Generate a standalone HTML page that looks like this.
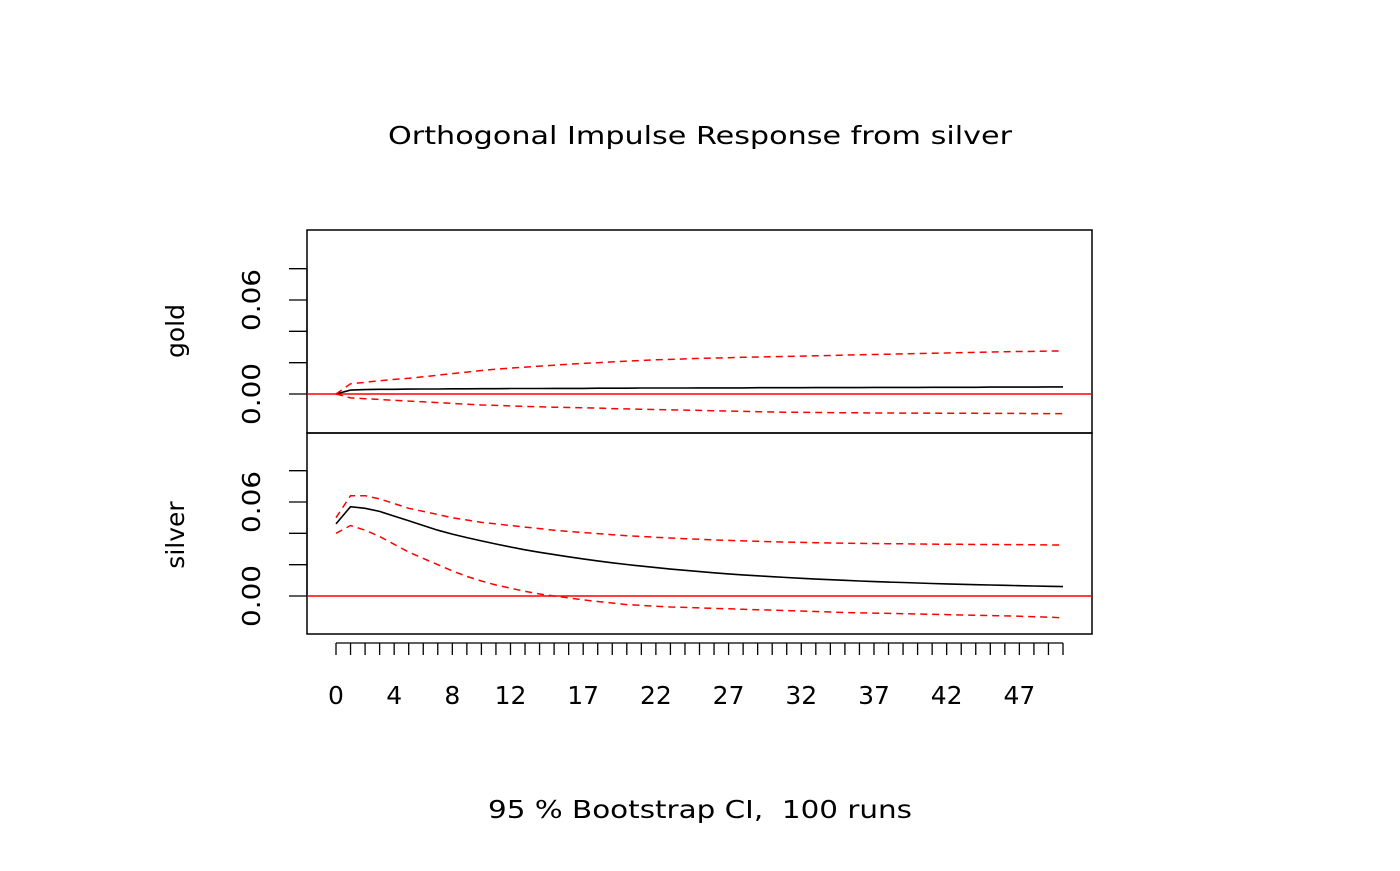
<!DOCTYPE html>
<html><head><meta charset="utf-8"><style>
body{margin:0;background:#fff}
svg text{font-family:"DejaVu Sans","Liberation Sans",sans-serif;fill:#000;white-space:pre}
</style></head><body>
<svg id="c" width="1400" height="866" viewBox="0 0 1400 866">
<text x="700" y="144" font-size="25" text-anchor="middle" textLength="624" lengthAdjust="spacingAndGlyphs">Orthogonal Impulse Response from silver</text>
<text x="700" y="818" font-size="25" text-anchor="middle" textLength="424" lengthAdjust="spacingAndGlyphs">95 % Bootstrap CI,  100 runs</text>
<g id="g"></g>
</svg>
<script>
const steps = Array.from({length:51},(_,i)=>i);
const xTickLabels = [0,4,8,12,17,22,27,32,37,42,47];
const yTickValues = [0,0.02,0.04,0.06,0.08];
const yTickLabels = ["0.00","0.06"];
const goldMean = [0,0.0025,0.0028,0.003,0.003,0.0031,0.0032,0.0032,0.0033,0.0033,0.0034,0.0034,0.0035,0.0035,0.0035,0.0036,0.0036,0.0036,0.0037,0.0037,0.0037,0.0038,0.0038,0.0038,0.0038,0.0039,0.0039,0.0039,0.0039,0.004,0.004,0.004,0.004,0.0041,0.0041,0.0041,0.0041,0.0042,0.0042,0.0042,0.0042,0.0043,0.0043,0.0043,0.0043,0.0044,0.0044,0.0044,0.0044,0.0045,0.0045];
const goldUpper = [0,0.0065,0.0075,0.0085,0.0093,0.010,0.011,0.012,0.013,0.014,0.015,0.0158,0.0165,0.0172,0.0178,0.0184,0.019,0.0195,0.02,0.0205,0.021,0.0214,0.0218,0.0221,0.0224,0.0227,0.023,0.0232,0.0234,0.0236,0.0238,0.024,0.0242,0.0244,0.0246,0.0248,0.025,0.0252,0.0254,0.0256,0.0258,0.026,0.0262,0.0264,0.0266,0.0268,0.027,0.0271,0.0272,0.0274,0.0275];
const goldLower = [0,-0.0025,-0.003,-0.0035,-0.004,-0.0045,-0.005,-0.0055,-0.006,-0.0065,-0.007,-0.0073,-0.0076,-0.0079,-0.0082,-0.0084,-0.0086,-0.0088,-0.009,-0.0093,-0.0095,-0.0097,-0.0099,-0.0101,-0.0103,-0.0105,-0.0107,-0.0109,-0.0111,-0.0113,-0.0115,-0.0116,-0.0117,-0.0118,-0.0119,-0.012,-0.012,-0.0121,-0.0121,-0.0122,-0.0122,-0.0122,-0.0123,-0.0123,-0.0123,-0.0124,-0.0124,-0.0124,-0.0125,-0.0125,-0.0125];
const silverMean = [0.046,0.057,0.056,0.054,0.051,0.048,0.045,0.042,0.0395,0.0373,0.0352,0.0332,0.0313,0.0295,0.0279,0.0264,0.025,0.0237,0.0224,0.0212,0.0201,0.0191,0.0181,0.0172,0.0164,0.0156,0.0148,0.0141,0.0135,0.0129,0.0123,0.0118,0.0113,0.0108,0.0104,0.01,0.0096,0.0092,0.0089,0.0086,0.0083,0.008,0.0077,0.0075,0.0072,0.007,0.0068,0.0066,0.0064,0.0062,0.006];
const silverUpper = [0.050,0.064,0.064,0.062,0.059,0.056,0.054,0.052,0.050,0.0485,0.047,0.046,0.045,0.044,0.043,0.042,0.0412,0.0405,0.0398,0.0391,0.0385,0.038,0.0375,0.037,0.0366,0.0362,0.0358,0.0355,0.0352,0.0349,0.0346,0.0344,0.0342,0.034,0.0338,0.0337,0.0336,0.0335,0.0334,0.0333,0.0332,0.0331,0.033,0.033,0.0329,0.0329,0.0328,0.0328,0.0327,0.0326,0.0325];
const silverLower = [0.040,0.045,0.042,0.038,0.033,0.028,0.024,0.020,0.016,0.0125,0.0096,0.007,0.005,0.003,0.0013,0,-0.0012,-0.0025,-0.0035,-0.0045,-0.0055,-0.006,-0.0065,-0.007,-0.0073,-0.0076,-0.0079,-0.0082,-0.0085,-0.0088,-0.009,-0.0093,-0.0096,-0.0099,-0.0102,-0.0105,-0.0107,-0.0109,-0.0111,-0.0113,-0.0115,-0.0117,-0.0119,-0.0121,-0.0123,-0.0125,-0.0127,-0.0129,-0.0132,-0.0135,-0.014];

const NS='http://www.w3.org/2000/svg';
const g=document.getElementById('g');
function mk(t,a){const e=document.createElementNS(NS,t);for(const k in a)e.setAttribute(k,a[k]);g.appendChild(e);return e;}
const L=307,R=1092;
const xs=v=>336+v*14.54;
const panels=[{name:'gold',zero:394,top:230,bot:433,mean:goldMean,up:goldUpper,lo:goldLower},
{name:'silver',zero:596,top:433,bot:634,mean:silverMean,up:silverUpper,lo:silverLower}];
const k=94/0.06;
panels.forEach(p=>{
  const ys=v=>p.zero-v*k;
  const box=mk('rect',{x:L,y:p.top,width:R-L,height:p.bot-p.top,fill:'none',stroke:'#000','stroke-width':1.5});
  
  
  const ax=mk('line',{x1:L,x2:L,y1:ys(0),y2:ys(0.08),stroke:'#000','stroke-width':1.3});
  
  
  yTickValues.forEach(v=>{
    const t=mk('line',{x1:L-18,x2:L,y1:ys(v),y2:ys(v),stroke:'#000','stroke-width':1.3});
    
    
  });
  yTickLabels.forEach(s=>{
    const y=ys(parseFloat(s));
    const t=mk('text',{x:0,y:0,'font-size':25,'text-anchor':'middle',textLength:62,lengthAdjust:'spacingAndGlyphs',transform:`translate(260,${y}) rotate(-90)`});
    t.textContent=s;
    
    
  });
  const yl=mk('text',{x:0,y:0,'font-size':25,'text-anchor':'middle',transform:`translate(184,${p.name==='gold'?331:535}) rotate(-90)`});
  yl.textContent=p.name;
  
  
  const z=mk('line',{x1:L,x2:R,y1:ys(0),y2:ys(0),stroke:'#f00','stroke-width':1.5});
  
  
  const pts=a=>a.map((v,i)=>xs(steps[i]).toFixed(1)+','+ys(v).toFixed(1)).join(' ');
  const m=mk('polyline',{points:pts(p.mean),fill:'none',stroke:'#000','stroke-width':1.6});
  
  
  const u=mk('polyline',{points:pts(p.up),fill:'none',stroke:'#f00','stroke-width':1.5,'stroke-dasharray':'7,5'});
  
  
  const l=mk('polyline',{points:pts(p.lo),fill:'none',stroke:'#f00','stroke-width':1.5,'stroke-dasharray':'7,5'});
  
  
});
const xa=mk('line',{x1:xs(0),x2:xs(50),y1:643,y2:643,stroke:'#000','stroke-width':1.3});


steps.forEach(s=>{
  const t=mk('line',{x1:xs(s),x2:xs(s),y1:643,y2:655,stroke:'#000','stroke-width':1.3});
  
  
});
xTickLabels.forEach(s=>{
  const t=mk('text',{x:xs(s),y:704,'font-size':25,'text-anchor':'middle'});
  t.textContent=s;
  
  
});
</script>
</body></html>
